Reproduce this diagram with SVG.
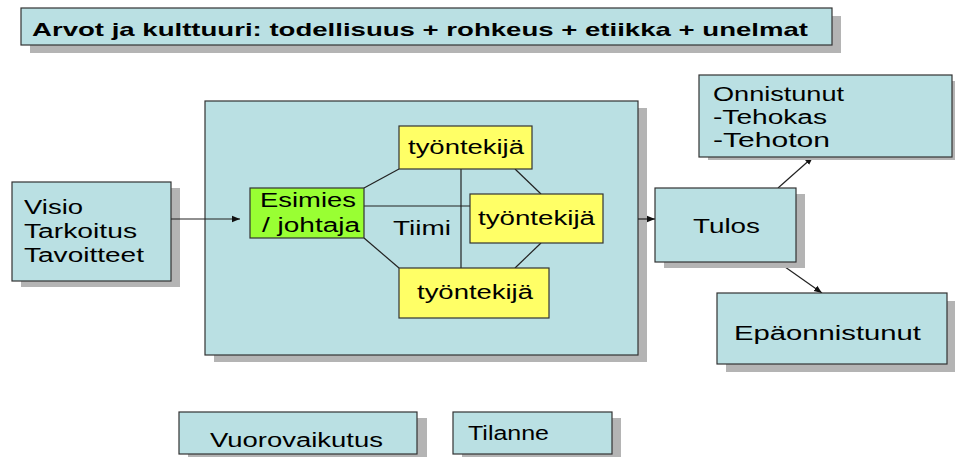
<svg xmlns="http://www.w3.org/2000/svg" width="955" height="457" viewBox="0 0 955 457">
<style>
.box{fill:#bae0e3;stroke:#333;stroke-width:1.2}
.sh{fill:#b4b4b4}
.y{fill:#ffff66;stroke:#333;stroke-width:1.2}
.g{fill:#99ff33;stroke:#333;stroke-width:1.2}
.t{font-family:"Liberation Sans",Arial,sans-serif;font-size:20px;fill:#000}
.b{font-weight:bold;font-size:18.5px}
.ln{stroke:#222;stroke-width:1.2;fill:none}
.ar{stroke:#222;stroke-width:1.2;fill:none;marker-end:url(#ah)}
</style>
<defs>
<marker id="ah" viewBox="0 0 10 10" refX="10" refY="5" markerWidth="8" markerHeight="8" markerUnits="userSpaceOnUse" orient="auto">
<path d="M0,1 L10,5 L0,9 z" fill="#111"/>
</marker>
</defs>
<rect width="955" height="457" fill="#fff"/>

<g id="title">
<rect class="sh" x="30" y="16" width="811" height="37"/>
<rect class="box" x="21" y="8" width="811" height="37"/>
<text class="t b" x="32" y="36" textLength="776" lengthAdjust="spacingAndGlyphs">Arvot ja kulttuuri: todellisuus + rohkeus + etiikka + unelmat</text>
</g>

<g id="visio">
<rect class="sh" x="21" y="188" width="159" height="99"/>
<rect class="box" x="12" y="182" width="159" height="99"/>
<text class="t" x="24" y="214" textLength="59" lengthAdjust="spacingAndGlyphs">Visio</text>
<text class="t" x="24" y="238" textLength="113" lengthAdjust="spacingAndGlyphs">Tarkoitus</text>
<text class="t" x="24" y="262" textLength="120" lengthAdjust="spacingAndGlyphs">Tavoitteet</text>
</g>

<g id="tiimi-alue">
<rect class="sh" x="214" y="108" width="433" height="254"/>
<rect class="box" x="205" y="101" width="433" height="254"/>
<text class="t" x="393" y="235" textLength="58" lengthAdjust="spacingAndGlyphs">Tiimi</text>
</g>

<g id="connectors">
<line class="ln" x1="364" y1="188" x2="399" y2="169"/>
<line class="ln" x1="364" y1="238" x2="399" y2="268"/>
<line class="ln" x1="364" y1="206" x2="470" y2="206"/>
<line class="ln" x1="461" y1="169" x2="461" y2="268"/>
<line class="ln" x1="515" y1="169" x2="541" y2="194"/>
<line class="ln" x1="541" y1="243" x2="515" y2="268"/>
<line class="ar" x1="171" y1="219" x2="240" y2="219"/>
<line class="ar" x1="638" y1="219" x2="655" y2="219"/>
<line class="ar" x1="778" y1="188" x2="813" y2="157"/>
<line class="ar" x1="778" y1="262" x2="822" y2="293"/>
</g>

<g id="esimies">
<rect class="g" x="250" y="188" width="114" height="50"/>
<text class="t" x="260" y="207" textLength="96" lengthAdjust="spacingAndGlyphs">Esimies</text>
<text class="t" x="262" y="232" textLength="98" lengthAdjust="spacingAndGlyphs">/ johtaja</text>
</g>

<g id="tyontekija1">
<rect class="y" x="399" y="126" width="133" height="43"/>
<text class="t" x="408" y="154" textLength="116" lengthAdjust="spacingAndGlyphs">työntekijä</text>
</g>

<g id="tyontekija2">
<rect class="y" x="470" y="194" width="133" height="49"/>
<text class="t" x="478" y="225" textLength="117" lengthAdjust="spacingAndGlyphs">työntekijä</text>
</g>

<g id="tyontekija3">
<rect class="y" x="399" y="268" width="150" height="50"/>
<text class="t" x="417" y="299" textLength="116" lengthAdjust="spacingAndGlyphs">työntekijä</text>
</g>

<g id="tulos">
<rect class="sh" x="664" y="194" width="141" height="74"/>
<rect class="box" x="655" y="188" width="141" height="74"/>
<text class="t" x="693" y="233" textLength="67" lengthAdjust="spacingAndGlyphs">Tulos</text>
</g>

<g id="onnistunut">
<rect class="sh" x="708" y="81" width="254" height="79"/>
<rect class="box" x="699" y="75" width="253" height="82"/>
<text class="t" x="713" y="101" textLength="131" lengthAdjust="spacingAndGlyphs">Onnistunut</text>
<text class="t" x="713" y="124" textLength="114" lengthAdjust="spacingAndGlyphs">-Tehokas</text>
<text class="t" x="713" y="147" textLength="117" lengthAdjust="spacingAndGlyphs">-Tehoton</text>
</g>

<g id="epaonnistunut">
<rect class="sh" x="726" y="301" width="229" height="71"/>
<rect class="box" x="717" y="293" width="230" height="71"/>
<text class="t" x="734" y="340" textLength="187" lengthAdjust="spacingAndGlyphs">Epäonnistunut</text>
</g>

<g id="vuorovaikutus">
<rect class="sh" x="188" y="418" width="239" height="42"/>
<rect class="box" x="179" y="412" width="238" height="42"/>
<text class="t" x="210" y="447" textLength="173" lengthAdjust="spacingAndGlyphs">Vuorovaikutus</text>
</g>

<g id="tilanne">
<rect class="sh" x="462" y="418" width="159" height="42"/>
<rect class="box" x="453" y="412" width="159" height="42"/>
<text class="t" x="468" y="440" textLength="81" lengthAdjust="spacingAndGlyphs">Tilanne</text>
</g>
</svg>
